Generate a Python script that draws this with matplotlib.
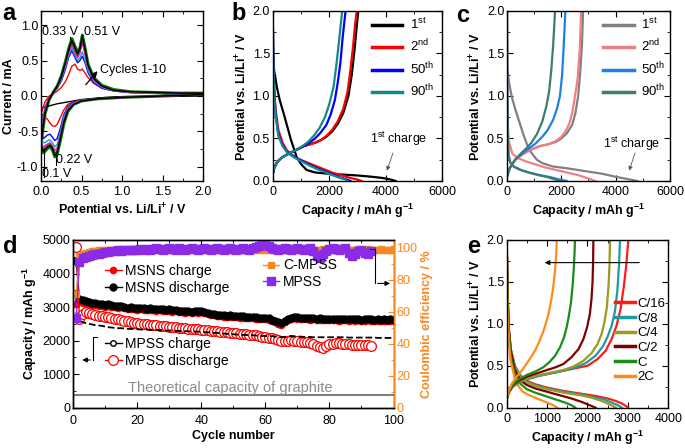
import numpy as np
import matplotlib.pyplot as plt
from matplotlib.lines import Line2D
from matplotlib.ticker import MultipleLocator

plt.rcParams['font.family'] = ['Liberation Sans', 'DejaVu Sans']
plt.rcParams['mathtext.fontset'] = 'custom'
plt.rcParams['mathtext.rm'] = 'Liberation Sans'
plt.rcParams['mathtext.bf'] = 'Liberation Sans:bold'
plt.rcParams['mathtext.it'] = 'Liberation Sans:italic'
plt.rcParams['mathtext.default'] = 'regular'
plt.rcParams['axes.unicode_minus'] = False
plt.rcParams['axes.linewidth'] = 1.0

# ---------------- panel a : cyclic voltammetry ----------------
cv_v_down = [2.0, 1.5, 1.0, 0.7, 0.5, 0.4, 0.33, 0.28, 0.24, 0.2, 0.17, 0.14, 0.11, 0.08, 0.05, 0.03, 0.01, 0.0]
cv_v_up = [0.0, 0.02, 0.05, 0.1, 0.15, 0.2, 0.25, 0.3, 0.34, 0.38, 0.42, 0.45, 0.48, 0.51, 0.54, 0.58, 0.65,
           0.75, 0.9, 1.1, 1.4, 1.7, 2.0]
cv_colors = ['red', 'blue', '#17a5b0', 'magenta', '#4a4a00', 'black', 'green']
cv_down = [
    [0.02, 0.0, -0.02, -0.04, -0.06, -0.08, -0.12, -0.2, -0.3, -0.4, -0.43, -0.42, -0.38, -0.33, -0.3, -0.29, -0.28, -0.27],
    [0.02, 0.0, -0.02, -0.04, -0.06, -0.09, -0.15, -0.27, -0.45, -0.6, -0.63, -0.58, -0.54, -0.55, -0.58, -0.6, -0.56, -0.5],
    [0.02, 0.0, -0.02, -0.04, -0.06, -0.1, -0.17, -0.3, -0.5, -0.68, -0.72, -0.66, -0.62, -0.63, -0.66, -0.66, -0.62, -0.56],
    [0.02, 0.0, -0.02, -0.04, -0.07, -0.11, -0.19, -0.34, -0.55, -0.73, -0.77, -0.7, -0.66, -0.68, -0.7, -0.72, -0.68, -0.62],
    [0.02, 0.0, -0.02, -0.04, -0.07, -0.12, -0.2, -0.36, -0.58, -0.77, -0.81, -0.72, -0.68, -0.7, -0.73, -0.75, -0.71, -0.65],
    [0.02, 0.0, -0.02, -0.04, -0.07, -0.12, -0.21, -0.38, -0.6, -0.8, -0.84, -0.74, -0.7, -0.72, -0.76, -0.78, -0.74, -0.68],
    [0.02, 0.0, -0.02, -0.04, -0.07, -0.12, -0.22, -0.4, -0.62, -0.82, -0.86, -0.76, -0.72, -0.74, -0.78, -0.8, -0.76, -0.7],
]
cv_up = [
    [-0.27, -0.18, -0.08, 0.0, 0.03, 0.07, 0.12, 0.2, 0.3, 0.42, 0.45, 0.38, 0.36, 0.38, 0.33, 0.26, 0.18, 0.11, 0.07, 0.05, 0.04, 0.03, 0.03],
    [-0.5, -0.34, -0.16, -0.03, 0.04, 0.11, 0.21, 0.37, 0.54, 0.64, 0.54, 0.47, 0.5, 0.56, 0.48, 0.33, 0.19, 0.11, 0.07, 0.05, 0.04, 0.03, 0.03],
    [-0.56, -0.38, -0.18, -0.04, 0.04, 0.12, 0.23, 0.4, 0.57, 0.68, 0.57, 0.5, 0.54, 0.62, 0.52, 0.36, 0.21, 0.12, 0.07, 0.05, 0.04, 0.03, 0.03],
    [-0.62, -0.42, -0.2, -0.04, 0.05, 0.13, 0.25, 0.43, 0.6, 0.72, 0.61, 0.54, 0.6, 0.75, 0.6, 0.4, 0.23, 0.13, 0.08, 0.05, 0.04, 0.04, 0.03],
    [-0.65, -0.45, -0.22, -0.05, 0.05, 0.13, 0.26, 0.45, 0.63, 0.76, 0.65, 0.57, 0.64, 0.8, 0.65, 0.42, 0.24, 0.14, 0.08, 0.06, 0.05, 0.04, 0.04],
    [-0.68, -0.48, -0.24, -0.05, 0.05, 0.14, 0.27, 0.47, 0.65, 0.79, 0.68, 0.6, 0.67, 0.84, 0.68, 0.44, 0.25, 0.14, 0.08, 0.06, 0.05, 0.04, 0.04],
    [-0.7, -0.5, -0.25, -0.05, 0.05, 0.14, 0.28, 0.48, 0.66, 0.81, 0.7, 0.62, 0.68, 0.86, 0.7, 0.45, 0.26, 0.15, 0.09, 0.06, 0.05, 0.04, 0.04],
]
cv_first_v = [2.0, 1.5, 1.0, 0.8, 0.6, 0.5, 0.4, 0.3, 0.2, 0.1, 0.05, 0.0]
cv_first_i = [0.0, -0.005, -0.01, -0.02, -0.04, -0.05, -0.07, -0.09, -0.11, -0.14, -0.155, -0.17]

# ---------------- panel b : MSNS voltage profiles ----------------
b_labels = ['1$^{st}$', '2$^{nd}$', '50$^{th}$', '90$^{th}$']
b_colors = ['black', 'red', 'blue', '#138a8a']
b_dis_cap = [
    [0, 50, 150, 250, 400, 550, 650, 750, 850, 1000, 1200, 1500, 2000, 2500, 3000, 3500, 3900, 4200, 4350],
    [0, 20, 50, 100, 200, 350, 500, 700, 900, 1200, 1500, 1800, 2100, 2400, 2700, 2950, 3150],
    [0, 20, 50, 100, 200, 350, 500, 700, 900, 1200, 1500, 1800, 2100, 2400, 2600, 2750],
    [0, 20, 50, 100, 200, 350, 500, 700, 900, 1200, 1500, 1800, 2100, 2350, 2550, 2650],
]
b_dis_v = [
    [1.55, 1.3, 1.1, 0.95, 0.78, 0.6, 0.48, 0.38, 0.28, 0.2, 0.13, 0.1, 0.085, 0.075, 0.065, 0.05, 0.035, 0.015, 0.0],
    [2.0, 1.5, 1.1, 0.85, 0.6, 0.45, 0.36, 0.3, 0.26, 0.22, 0.18, 0.14, 0.1, 0.07, 0.04, 0.02, 0.0],
    [2.0, 1.5, 1.1, 0.8, 0.55, 0.42, 0.35, 0.3, 0.26, 0.21, 0.16, 0.12, 0.08, 0.04, 0.02, 0.0],
    [2.0, 1.5, 1.05, 0.78, 0.53, 0.41, 0.34, 0.29, 0.25, 0.2, 0.15, 0.11, 0.07, 0.04, 0.02, 0.0],
]
b_chg_cap = [
    [0, 50, 150, 300, 500, 800, 1100, 1300, 1500, 1700, 1900, 2100, 2300, 2500, 2680, 2800, 2900, 2970, 3030],
    [0, 50, 150, 300, 500, 800, 1100, 1300, 1500, 1700, 1900, 2100, 2300, 2500, 2650, 2750, 2850, 2920, 2975],
    [0, 50, 150, 300, 500, 800, 1100, 1300, 1500, 1700, 1900, 2050, 2200, 2300, 2400, 2480, 2580],
    [0, 50, 150, 300, 500, 800, 1050, 1250, 1450, 1650, 1850, 2000, 2150, 2250, 2350, 2460],
]
b_chg_v = [
    [0.08, 0.15, 0.22, 0.27, 0.31, 0.36, 0.41, 0.43, 0.45, 0.48, 0.52, 0.58, 0.67, 0.8, 1.0, 1.25, 1.55, 1.8, 2.0],
    [0.08, 0.15, 0.22, 0.27, 0.31, 0.36, 0.41, 0.43, 0.45, 0.48, 0.53, 0.6, 0.7, 0.85, 1.05, 1.3, 1.6, 1.85, 2.0],
    [0.08, 0.15, 0.22, 0.27, 0.31, 0.36, 0.41, 0.45, 0.5, 0.57, 0.66, 0.78, 0.95, 1.15, 1.4, 1.7, 2.0],
    [0.08, 0.15, 0.22, 0.27, 0.31, 0.36, 0.41, 0.46, 0.53, 0.62, 0.75, 0.9, 1.1, 1.35, 1.65, 2.0],
]

# ---------------- panel c : MPSS voltage profiles ----------------
c_colors = ['#808080', '#f08080', '#1f7fe6', '#3e7d6e']
c_dis_cap = [
    [0, 80, 170, 300, 450, 600, 750, 900, 1100, 1300, 1700, 2200, 3000, 3500, 4000, 4400, 4800],
    [0, 10, 20, 40, 80, 200, 400, 700, 1000, 1400, 1800, 2200, 2600, 3000, 3250],
    [0, 10, 30, 60, 120, 250, 500, 800, 1200, 1600, 1900, 2200],
    [0, 10, 30, 60, 120, 250, 500, 800, 1150, 1500, 1750, 2000],
]
c_dis_v = [
    [1.35, 1.15, 1.0, 0.85, 0.7, 0.55, 0.42, 0.33, 0.25, 0.21, 0.17, 0.15, 0.11, 0.085, 0.05, 0.025, 0.0],
    [2.0, 1.5, 1.0, 0.6, 0.45, 0.32, 0.27, 0.23, 0.2, 0.16, 0.13, 0.1, 0.07, 0.03, 0.0],
    [2.0, 1.0, 0.5, 0.3, 0.22, 0.17, 0.13, 0.1, 0.07, 0.045, 0.02, 0.0],
    [2.0, 1.0, 0.5, 0.3, 0.22, 0.17, 0.13, 0.1, 0.07, 0.045, 0.02, 0.0],
]
c_chg_cap = [
    [0, 100, 300, 600, 900, 1200, 1500, 1800, 2000, 2200, 2400, 2520, 2620, 2700, 2760, 2800],
    [0, 100, 300, 600, 900, 1200, 1500, 1800, 2000, 2150, 2300, 2400, 2480, 2600, 2680, 2730],
    [0, 100, 300, 550, 800, 1050, 1300, 1500, 1700, 1850, 1950, 2030, 2090, 2150],
    [0, 100, 300, 500, 700, 900, 1100, 1300, 1450, 1550, 1630, 1700, 1770],
]
c_chg_v = [
    [0.05, 0.15, 0.25, 0.32, 0.37, 0.41, 0.43, 0.46, 0.5, 0.56, 0.66, 0.8, 1.0, 1.3, 1.6, 2.0],
    [0.05, 0.15, 0.25, 0.32, 0.37, 0.41, 0.43, 0.47, 0.52, 0.58, 0.68, 0.8, 0.95, 1.2, 1.55, 2.0],
    [0.05, 0.15, 0.25, 0.32, 0.38, 0.44, 0.52, 0.6, 0.72, 0.86, 1.0, 1.25, 1.6, 2.0],
    [0.05, 0.15, 0.25, 0.32, 0.38, 0.45, 0.55, 0.7, 0.88, 1.05, 1.3, 1.6, 2.0],
]

# ---------------- panel d : cycling ----------------
cycles = np.arange(1, 101)
msns_dis = [4380, 3250, 3220, 3180, 3150, 3130, 3120, 3100, 3080, 3060,
            3080, 3060, 3040, 3020, 3040, 3000, 2980, 2990, 2970, 2960,
            2980, 2960, 2940, 2960, 2950, 2930, 2950, 2930, 2910, 2930,
            2900, 2910, 2890, 2880, 2870, 2880, 2860, 2880, 2870, 2890,
            2860, 2830, 2800, 2790, 2770, 2770, 2750, 2740, 2750, 2730,
            2730, 2720, 2720, 2700, 2700, 2710, 2690, 2680, 2670, 2680,
            2660, 2620, 2590, 2540, 2520, 2580, 2650, 2680, 2700, 2690,
            2680, 2670, 2680, 2660, 2670, 2650, 2660, 2650, 2640, 2650,
            2640, 2650, 2630, 2640, 2640, 2630, 2640, 2630, 2640, 2620,
            2630, 2640, 2630, 2620, 2630, 2620, 2630, 2620, 2630, 2620]
msns_chg = [3100, 3150, 3120, 3100, 3080, 3070, 3060, 3040, 3030, 3010,
            3020, 3000, 2990, 2980, 2990, 2960, 2940, 2950, 2930, 2920,
            2940, 2920, 2900, 2920, 2910, 2890, 2910, 2890, 2870, 2890,
            2860, 2870, 2850, 2840, 2830, 2840, 2820, 2840, 2830, 2850,
            2820, 2790, 2760, 2750, 2730, 2730, 2710, 2700, 2710, 2690,
            2690, 2680, 2680, 2660, 2660, 2670, 2650, 2640, 2630, 2640,
            2620, 2580, 2550, 2500, 2480, 2540, 2610, 2640, 2660, 2650,
            2640, 2630, 2640, 2620, 2630, 2610, 2620, 2610, 2600, 2610,
            2600, 2610, 2590, 2600, 2600, 2590, 2600, 2590, 2600, 2580,
            2590, 2600, 2590, 2580, 2590, 2580, 2590, 2580, 2590, 2580]
mpss_chg = [2850, 2600, 2550, 2520, 2500, 2480, 2460, 2450, 2440, 2420,
            2400, 2390, 2380, 2370, 2370, 2360, 2350, 2350, 2340, 2340,
            2330, 2330, 2330, 2320, 2320, 2320, 2310, 2310, 2300, 2300,
            2300, 2290, 2290, 2280, 2280, 2280, 2270, 2270, 2270, 2260,
            2250, 2250, 2240, 2230, 2230, 2220, 2210, 2200, 2200, 2190,
            2180, 2180, 2170, 2170, 2160, 2160, 2150, 2150, 2140, 2140,
            2130, 2130, 2120, 2110, 2100, 2110, 2120, 2130, 2130, 2120,
            2120, 2110, 2110, 2110, 2100, 2100, 2100, 2100, 2100, 2100,
            2100, 2100, 2100, 2100, 2100, 2090, 2090, 2090, 2090, 2090,
            2090, 2090, 2090, 2090, 2080, 2080, 2080, 2080, 2080, 2080]
mpss_dis = [4800, 2650, 2800, 2850, 2820, 2790, 2760, 2740, 2720, 2700,
            2690, 2670, 2650, 2630, 2610, 2590, 2570, 2550, 2530, 2520,
            2510, 2500, 2490, 2480, 2470, 2460, 2450, 2440, 2430, 2420,
            2410, 2400, 2390, 2380, 2370, 2360, 2350, 2340, 2340, 2330,
            2320, 2310, 2300, 2290, 2280, 2270, 2260, 2250, 2240, 2230,
            2220, 2210, 2200, 2190, 2180, 2170, 2160, 2140, 2120, 2100,
            2080, 2070, 2050, 2030, 2000, 1990, 2000, 2010, 1990, 1980,
            1970, 1960, 1950, 1930, 1900, 1850, 1800, 1790, 1850, 1900,
            1910, 1920, 1920, 1910, 1900, 1890, 1880, 1880, 1870, 1870,
            1860, 1860, 1850]
ce_cmpss = [71, 95, 96.5, 97, 97.5, 98, 98, 98.5, 98.5, 98.5,
            99, 98.5, 99, 98.8, 99.2, 98.6, 99, 98.8, 99.2, 99,
            98.6, 99, 99.2, 98.8, 99, 99.2, 98.6, 99, 98.8, 99.2,
            99, 98.6, 99, 99.2, 98.8, 99, 99.2, 98.6, 99, 98.8,
            99.2, 99, 98.6, 99, 99.2, 98.8, 99, 99.2, 98.6, 99,
            98.8, 99.2, 99, 98.6, 99, 99.2, 98.8, 99, 99.2, 98.6,
            99, 98.8, 99.2, 99, 98.6, 99, 99.2, 98.8, 99, 99.2,
            98.6, 99, 98.8, 99.2, 99, 98.6, 99, 99.2, 98.8, 99,
            99.2, 98.6, 99, 98.8, 99.2, 99, 98.6, 99, 99.2, 98.8,
            99, 99.2, 98.6, 99, 98.8, 99.2, 99, 98.6, 99, 99.2]
ce_mpss = [56, 91, 93.5, 94.5, 95, 95.5, 96, 96.5, 97, 97.5,
           97.5, 98, 98, 98.5, 98, 98.5, 99, 98.5, 99, 99,
           99.5, 99, 99.5, 99, 99.5, 100, 99.5, 99, 99.5, 100,
           99.5, 99, 100, 99.5, 99, 99.5, 100, 99.5, 99, 99.5,
           100, 99.5, 99, 99.5, 100, 99.5, 99, 99.5, 100, 99.5,
           99, 99.5, 100, 99.5, 99, 100, 100.5, 101, 102, 103,
           101, 100, 99.5, 99, 99.5, 100, 99.5, 99, 99.5, 100,
           99.5, 99, 99.5, 100, 98, 95, 94, 96, 98, 99.5,
           100, 99.5, 99, 99.5, 100, 97, 95, 96, 98, 99,
           97, 96.5, 98]
graphite_cap = 372

# ---------------- panel e : rate profiles ----------------
e_labels = ['C/16', 'C/8', 'C/4', 'C/2', 'C', '2C']
e_colors = ['#ff1a1a', '#1a9da0', '#9a9a1e', '#800000', '#1a8c1a', '#ff8c1a']
e_dis_cap = [
    [0, 20, 50, 100, 200, 350, 500, 700, 1000, 1400, 1800, 2200, 2500, 2700, 2850, 2950, 3000],
    [0, 20, 50, 100, 200, 350, 500, 700, 1000, 1400, 1800, 2100, 2400, 2600, 2750, 2850],
    [0, 20, 50, 100, 200, 350, 500, 700, 1000, 1400, 1800, 2100, 2350, 2550, 2700],
    [0, 20, 50, 100, 200, 350, 500, 700, 1000, 1300, 1600, 1850, 2050, 2200],
    [0, 20, 50, 100, 200, 350, 500, 700, 950, 1200, 1450, 1600, 1700],
    [0, 20, 50, 100, 200, 300, 400, 550, 700, 850, 1000, 1150, 1250],
]
e_dis_v = [
    [2.0, 1.4, 0.95, 0.7, 0.5, 0.38, 0.32, 0.28, 0.24, 0.2, 0.17, 0.14, 0.11, 0.08, 0.05, 0.02, 0.0],
    [2.0, 1.4, 0.95, 0.7, 0.5, 0.37, 0.31, 0.27, 0.23, 0.19, 0.16, 0.13, 0.1, 0.06, 0.03, 0.0],
    [2.0, 1.4, 0.95, 0.7, 0.48, 0.35, 0.3, 0.26, 0.22, 0.18, 0.15, 0.12, 0.08, 0.04, 0.0],
    [2.0, 1.4, 0.95, 0.68, 0.45, 0.32, 0.27, 0.23, 0.19, 0.15, 0.11, 0.07, 0.03, 0.0],
    [2.0, 1.3, 0.9, 0.6, 0.4, 0.28, 0.22, 0.18, 0.14, 0.1, 0.06, 0.03, 0.0],
    [2.0, 1.2, 0.8, 0.55, 0.35, 0.25, 0.19, 0.15, 0.12, 0.09, 0.06, 0.03, 0.0],
]
e_chg_cap = [
    [0, 50, 150, 300, 500, 800, 1100, 1400, 1700, 2000, 2250, 2450, 2600, 2720, 2820, 2900, 2960, 3010],
    [0, 50, 150, 300, 500, 800, 1100, 1400, 1700, 1950, 2200, 2380, 2500, 2600, 2680, 2740, 2780, 2805],
    [0, 50, 150, 300, 500, 800, 1100, 1400, 1650, 1900, 2100, 2250, 2350, 2420, 2480, 2520, 2545, 2558],
    [0, 50, 150, 300, 500, 750, 1000, 1200, 1400, 1600, 1780, 1900, 1990, 2060, 2100, 2125, 2140, 2145],
    [0, 50, 150, 300, 500, 700, 900, 1050, 1200, 1320, 1420, 1490, 1540, 1590, 1630, 1660, 1680, 1690],
    [0, 50, 120, 200, 300, 400, 500, 600, 700, 800, 900, 980, 1050, 1110, 1160, 1200, 1225, 1240],
]
e_chg_v = [
    [0.1, 0.18, 0.25, 0.3, 0.34, 0.38, 0.41, 0.44, 0.47, 0.5, 0.58, 0.68, 0.82, 0.98, 1.18, 1.45, 1.7, 2.0],
    [0.1, 0.18, 0.25, 0.3, 0.34, 0.38, 0.41, 0.44, 0.48, 0.53, 0.62, 0.73, 0.85, 0.98, 1.15, 1.4, 1.7, 2.0],
    [0.1, 0.18, 0.26, 0.31, 0.35, 0.39, 0.42, 0.45, 0.49, 0.56, 0.65, 0.76, 0.88, 1.02, 1.2, 1.45, 1.7, 2.0],
    [0.1, 0.19, 0.27, 0.32, 0.37, 0.41, 0.45, 0.48, 0.52, 0.6, 0.7, 0.82, 0.96, 1.12, 1.3, 1.5, 1.75, 2.0],
    [0.1, 0.2, 0.28, 0.34, 0.39, 0.43, 0.48, 0.54, 0.62, 0.72, 0.84, 0.97, 1.1, 1.25, 1.45, 1.65, 1.85, 2.0],
    [0.1, 0.2, 0.28, 0.34, 0.4, 0.46, 0.53, 0.6, 0.68, 0.78, 0.9, 1.02, 1.15, 1.3, 1.47, 1.65, 1.82, 2.0],
]

ORANGE = '#f5891f'
PURPLE = '#8b2be8'
FS = 9


def style(ax, xmaj, xmin, ymaj, ymin, right=True, xpad=3.5):
    ax.xaxis.set_major_locator(MultipleLocator(xmaj))
    ax.xaxis.set_minor_locator(MultipleLocator(xmin))
    ax.yaxis.set_major_locator(MultipleLocator(ymaj))
    ax.yaxis.set_minor_locator(MultipleLocator(ymin))
    ax.tick_params(which='both', direction='in', top=True, right=right, labelsize=FS)
    ax.tick_params(axis='y', pad=2)
    ax.tick_params(axis='x', pad=xpad)
    ax.tick_params(which='major', length=4)
    ax.tick_params(which='minor', length=2)


fig = plt.figure(figsize=(6.85, 4.48), dpi=100)

# ---- a ----
ax = fig.add_axes([0.0599, 0.596, 0.2365, 0.3795])
ax.plot(cv_first_v, cv_first_i, color='black', lw=1.0)
for k in range(len(cv_up)):
    vv = cv_v_down + cv_v_up
    ii = cv_down[k] + cv_up[k]
    lw = 2.2 if cv_colors[k] == 'green' else 1.0
    ax.plot(vv, ii, color=cv_colors[k], lw=lw, zorder=2 if k < 6 else 1)
ax.set_xlim(0, 2.0)
ax.set_ylim(-1.2, 1.2)
style(ax, 0.5, 0.25, 0.5, 0.25)
ax.set_xlabel('Potential vs. Li/Li$^{\\mathbf{+}}$ / V', fontsize=FS, fontweight='bold', labelpad=3)
ax.set_ylabel('Current / mA', fontsize=FS, fontweight='bold', labelpad=1)
ax.text(0.015, 0.9, '0.33 V', fontsize=FS, va='center', ha='left')
ax.text(0.53, 0.9, '0.51 V', fontsize=FS, va='center', ha='left')
ax.plot([0.36, 0.36], [0.83, 0.8], color='black', lw=0.8)
ax.plot([0.51, 0.51], [0.86, 0.83], color='black', lw=0.8)
ax.text(0.19, -0.9, '0.22 V', fontsize=FS, va='center', ha='left')
ax.text(0.015, -1.1, '0.1 V', fontsize=FS, va='center', ha='left')
ax.plot([0.04, 0.04], [-0.76, -1.15], color='black', lw=0.8)
ax.plot([0.18, 0.18], [-0.84, -0.98], color='black', lw=0.8)
ax.annotate('', xy=(0.72, 0.38), xytext=(0.53, 0.13),
            arrowprops=dict(arrowstyle='-|>', color='black', lw=0.9, mutation_scale=9))
ax.text(0.73, 0.36, 'Cycles 1-10', fontsize=FS, va='center', ha='left')


def profile_panel(rect, dis_cap, dis_v, chg_cap, chg_v, colors, labels, ann_xy, ann_text_xy, leg_x):
    ax = fig.add_axes(rect)
    order = [0, 1, 2, 3]
    for k in order:
        ax.plot(dis_cap[k], dis_v[k], color=colors[k], lw=1.6)
    for k in order:
        ax.plot(chg_cap[k], chg_v[k], color=colors[k], lw=1.6, label=labels[k])
    ax.set_xlim(0, 6000)
    ax.set_ylim(0, 2.0)
    style(ax, 2000, 1000, 0.5, 0.25)
    ax.set_xlabel('Capacity / mAh g$^{\\mathbf{-1}}$', fontsize=FS, fontweight='bold', labelpad=3)
    ax.set_ylabel('Potential vs. Li/Li$^{\\mathbf{+}}$ / V', fontsize=FS, fontweight='bold', labelpad=2)
    leg = ax.legend(loc='upper left', bbox_to_anchor=(leg_x, 0.965), frameon=False, fontsize=9.5,
                    handlelength=2.3, handletextpad=0.6, labelspacing=0.45, borderpad=0, borderaxespad=0)
    for h in leg.get_lines():
        h.set_linewidth(2.5)
    ax.annotate('', xy=ann_xy, xytext=(ann_xy[0] + 280, 0.36),
                arrowprops=dict(arrowstyle='-|>', color='#555555', lw=0.6, mutation_scale=6))
    ax.text(ann_text_xy[0], ann_text_xy[1], '1$^{st}$ charge', fontsize=FS, ha='center', va='center')
    return ax


profile_panel([0.3981, 0.596, 0.2474, 0.3795], b_dis_cap, b_dis_v, b_chg_cap, b_chg_v,
              b_colors, b_labels, (4010, 0.09), (4450, 0.5), 0.585)
profile_panel([0.7401, 0.596, 0.2380, 0.3795], c_dis_cap, c_dis_v, c_chg_cap, c_chg_v,
              c_colors, b_labels, (4465, 0.09), (4600, 0.44), 0.59)

# ---- d ----
axd = fig.add_axes([0.1066, 0.090, 0.4679, 0.3743])
axd.axhline(graphite_cap, color='#808080', lw=1.5)
l_mc, = axd.plot(cycles, msns_chg, color='red', marker='o', ms=4.5, lw=1, label='MSNS charge')
l_md, = axd.plot(cycles, msns_dis, color='black', marker='o', ms=5, lw=1, label='MSNS discharge')
l_pd, = axd.plot(cycles[:len(mpss_dis)], mpss_dis, color='red', marker='o', ms=7, mfc='white', mew=0.9,
                 lw=1, label='MPSS discharge')
axd.plot(cycles, mpss_chg, color='black', ls='--', lw=1.3)
axd.set_xlim(0, 100)
axd.set_ylim(0, 5000)
style(axd, 20, 10, 1000, 500, right=False, xpad=5.5)
axd.set_xlabel('Cycle number', fontsize=FS, fontweight='bold', labelpad=2)
axd.set_ylabel('Capacity / mAh g$^{\\mathbf{-1}}$', fontsize=FS, fontweight='bold', labelpad=2)
axd.text(49, 590, 'Theoretical capacity of graphite', color='#8c8c8c', fontsize=10.5, ha='center', va='center')
axd.plot([7.5, 6.25, 6.25], [2117, 2117, 1422], color='black', lw=0.8)
axd.annotate('', xy=(2.0, 1422), xytext=(6.25, 1422),
             arrowprops=dict(arrowstyle='-|>', color='black', lw=0.8, mutation_scale=7))

ax2 = axd.twinx()
l_cm, = ax2.plot(cycles, ce_cmpss, color=ORANGE, marker='s', ms=4.5, lw=1, label='C-MPSS')
l_pm, = ax2.plot(cycles[:len(ce_mpss)], ce_mpss, color=PURPLE, marker='s', ms=6, lw=1, label='MPSS')
ax2.set_ylim(0, 105)
ax2.yaxis.set_major_locator(MultipleLocator(20))
ax2.yaxis.set_minor_locator(MultipleLocator(10))
ax2.tick_params(axis='y', which='both', direction='in', colors=ORANGE, labelsize=FS, pad=2)
ax2.tick_params(axis='y', which='major', length=4)
ax2.tick_params(axis='y', which='minor', length=2)
ax2.spines['right'].set_color(ORANGE)
ax2.set_ylabel('Coulombic efficiency / %', color=ORANGE, fontsize=FS, fontweight='bold', labelpad=3)
ax2.plot([92.7, 94.2, 94.2], [99.6, 99.6, 77.8], color='black', lw=0.8)
ax2.annotate('', xy=(99.8, 77.8), xytext=(94.2, 77.8),
             arrowprops=dict(arrowstyle='-|>', color='black', lw=0.8, mutation_scale=7))

leg_kw = dict(frameon=False, fontsize=10, handlelength=1.2, handletextpad=0.25, labelspacing=0.2,
              borderpad=0, borderaxespad=0, loc='upper left')
legA = ax2.legend([l_mc, l_md], ['MSNS charge', 'MSNS discharge'], bbox_to_anchor=(0.10, 0.855), **leg_kw)
ax2.add_artist(legA)
legB = ax2.legend([l_cm, l_pm], ['C-MPSS', 'MPSS'], bbox_to_anchor=(0.592, 0.89), **leg_kw)
ax2.add_artist(legB)
proxy_pc = Line2D([], [], color='black', marker='o', ms=4, mfc='white', lw=1)
ax2.legend([proxy_pc, l_pd], ['MPSS charge', 'MPSS discharge'], bbox_to_anchor=(0.10, 0.42), **leg_kw)

# ---- e ----
axe = fig.add_axes([0.7397, 0.090, 0.2359, 0.3743])
for k in range(len(e_labels)):
    axe.plot(e_dis_cap[k], e_dis_v[k], color=e_colors[k], lw=1.6)
for k in range(len(e_labels)):
    axe.plot(e_chg_cap[k], e_chg_v[k], color=e_colors[k], lw=1.6, label=e_labels[k])
axe.set_xlim(0, 4000)
axe.set_ylim(0, 2.0)
style(axe, 1000, 500, 0.5, 0.25)
axe.set_xlabel('Capacity / mAh g$^{\\mathbf{-1}}$', fontsize=FS, fontweight='bold', labelpad=3)
axe.set_ylabel('Potential vs. Li/Li$^{\\mathbf{+}}$ / V', fontsize=FS, fontweight='bold', labelpad=2)
axe.annotate('', xy=(870, 1.73), xytext=(3350, 1.73),
             arrowprops=dict(arrowstyle='-|>', color='black', lw=0.8, mutation_scale=7))
lege = axe.legend(loc='upper left', bbox_to_anchor=(0.67, 0.655), frameon=False, fontsize=9.5,
                  handlelength=1.5, handletextpad=0.2, labelspacing=0.18, borderpad=0, borderaxespad=0)
for h in lege.get_lines():
    h.set_linewidth(2.5)

# panel letters
for lab, x, y in [('a', 0.004, 0.995), ('b', 0.338, 0.995), ('c', 0.666, 0.99), ('d', 0.004, 0.475),
                  ('e', 0.682, 0.475)]:
    fig.text(x, y, lab, fontsize=17, fontweight='bold', va='top', ha='left')

fig.savefig('out.png', dpi=100)
